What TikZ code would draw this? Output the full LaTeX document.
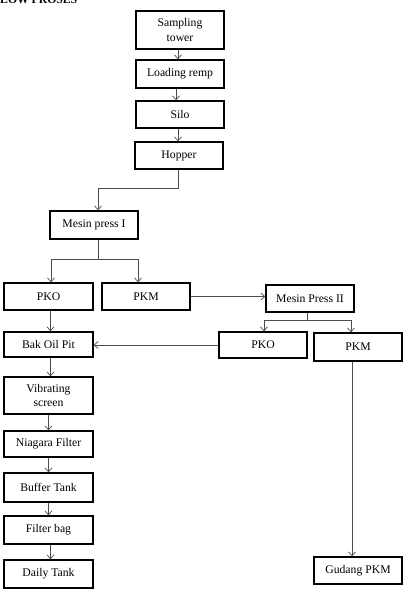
\documentclass[tikz,border=0pt]{standalone}
\usepackage{fontspec}
\setmainfont{Liberation Serif}
\usetikzlibrary{arrows.meta}
\begin{document}
\begin{tikzpicture}[x=1pt,y=-1pt,
  box/.style={draw=black,line width=1.3pt,minimum width=88pt,inner sep=1pt,align=center,
    font=\fontsize{11.7}{14.6}\selectfont},
  conn/.style={draw=black!70,line width=0.7pt},
  arr/.style={conn,-{Straight Barb[length=4pt,width=7pt]}}]
\useasboundingbox (0,0) rectangle (404,601);
\clip (0,0) rectangle (404,601);
\node[anchor=base west,inner sep=0pt,font=\fontsize{11.7}{14}\selectfont\bfseries] (title) at (0,4) {LOW PROSES};
% main chain
\node[box,minimum height=38pt] (samp) at (180,30) {Sampling\\tower};
\node[box,minimum height=28pt] (load) at (180,74) {Loading remp};
\node[box,minimum height=27pt] (silo) at (180,114.5) {Silo};
\node[box,minimum height=27pt] (hop) at (179,155.5) {Hopper};
\node[box,minimum height=28pt] (mp1) at (94,225) {Mesin press I};
\node[box,minimum height=27pt,minimum width=89pt] (pko1) at (48.5,296.5) {PKO};
\node[box,minimum height=27pt] (pkm1) at (146,296.5) {PKM};
\node[box,minimum height=27pt] (mp2) at (310,298.5) {Mesin Press II};
\node[box,minimum height=26pt] (pko2) at (263,345) {PKO};
\node[box,minimum height=28pt] (pkm2) at (358,347) {PKM};
\node[box,minimum height=25pt,minimum width=89pt] (bak) at (48.5,344.5) {Bak Oil Pit};
\node[box,minimum height=37pt,minimum width=89pt] (vib) at (48.5,395.5) {Vibrating\\screen};
\node[box,minimum height=26pt,minimum width=89pt] (nia) at (48.5,444) {Niagara Filter};
\node[box,minimum height=29pt,minimum width=89pt] (buf) at (48.5,487.5) {Buffer Tank};
\node[box,minimum height=28pt,minimum width=89pt] (fbag) at (48.5,530) {Filter bag};
\node[box,minimum height=28pt,minimum width=89pt] (daily) at (48.5,574) {Daily Tank};
\node[box,minimum height=27pt] (gud) at (358,570.5) {Gudang PKM};
% connectors
\draw[arr] ([xshift=-2]samp.south) -- ([xshift=-2]load.north);
\draw[arr] ([xshift=-4]load.south) -- ([xshift=-4]silo.north);
\draw[arr] ([xshift=-2]silo.south) -- ([xshift=-1]hop.north);
\coordinate (h1) at (98,188);
\draw[arr] ([xshift=-1]hop.south) |- (h1) -- (h1 |- mp1.north);
\coordinate (j1) at (98,259);
\coordinate (b1) at (51,259);
\coordinate (b2) at (138,259);
\draw[conn] (j1 |- mp1.south) -- (j1);
\draw[arr] (j1) -- (b1) -- (b1 |- pko1.north);
\draw[arr] (j1) -- (b2) -- (b2 |- pkm1.north);
\draw[arr] (pkm1.east) -- (pkm1.east -| mp2.west);
\coordinate (j2) at (307,320);
\coordinate (c1) at (264,320);
\coordinate (c2) at (351,320);
\draw[conn] (j2 |- mp2.south) -- (j2);
\draw[arr] (j2) -- (c1) -- (c1 |- pko2.north);
\draw[arr] (j2) -- (c2) -- (c2 |- pkm2.north);
\draw[arr] (pko2.west) -- (pko2.west -| bak.east);
\draw[arr] ([xshift=2]pko1.south) -- ([xshift=2]bak.north);
\draw[arr] ([xshift=2]bak.south) -- ([xshift=2]vib.north);
\draw[arr] (vib) -- (nia);
\draw[arr] (nia) -- (buf);
\draw[arr] (buf) -- (fbag);
\draw[arr] ([xshift=2]fbag.south) -- ([xshift=2]daily.north);
\draw[arr] ([xshift=-6]pkm2.south) -- ([xshift=-6]gud.north);
\end{tikzpicture}
\end{document}
